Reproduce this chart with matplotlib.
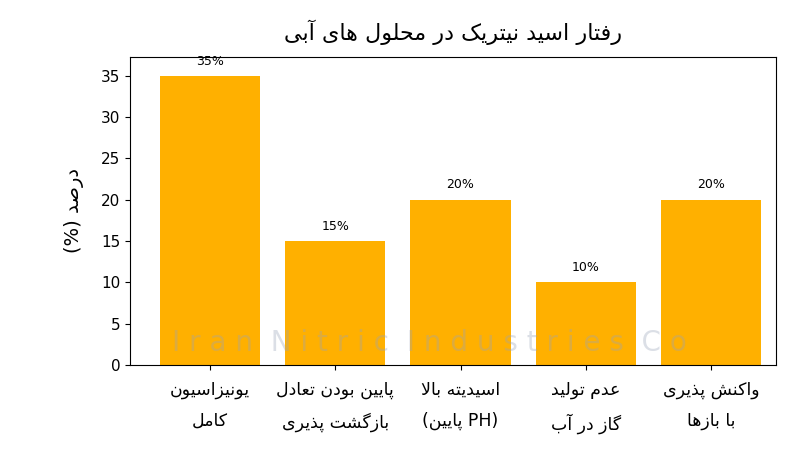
import unicodedata
import matplotlib
matplotlib.use("Agg")
import matplotlib.pyplot as plt

# --- minimal Persian shaping (no external reshaper available) ---
FORMS = {}
for cp in range(0xFB50, 0xFF00):
    d = unicodedata.decomposition(chr(cp))
    if d.startswith('<'):
        parts = d.split()
        base = ''.join(chr(int(x, 16)) for x in parts[1:])
        FORMS.setdefault((base, parts[0]), chr(cp))

RIGHT_ONLY = set('اآأإدذرزژوؤة') | {'لا'}


def is_letter(u):
    return (u, '<isolated>') in FORMS or (u, '<final>') in FORMS


def fa(s):
    units = []
    i = 0
    while i < len(s):
        if s[i] == 'ل' and i + 1 < len(s) and s[i + 1] == 'ا':
            units.append('لا')
            i += 2
        else:
            units.append(s[i])
            i += 1
    out = []
    for k, u in enumerate(units):
        if not is_letter(u):
            out.append({'(': ')', ')': '('}.get(u, u))
            continue
        prev = units[k - 1] if k > 0 else None
        nxt = units[k + 1] if k + 1 < len(units) else None
        jp = prev is not None and is_letter(prev) and prev not in RIGHT_ONLY
        jn = nxt is not None and is_letter(nxt) and u not in RIGHT_ONLY
        tag = {(False, False): '<isolated>', (True, False): '<final>',
               (False, True): '<initial>', (True, True): '<medial>'}[(jp, jn)]
        out.append(FORMS.get((u, tag), FORMS.get((u, '<isolated>'), u)))
    return ''.join(reversed(out))


def fa_lines(s):
    return '\n'.join(fa(line) for line in s.split('\n'))


# --- data ---
title = "رفتار اسید نیتریک در محلول های آبی"
categories = [
    fa_lines("یونیزاسیون\nکامل"),
    fa_lines("پایین بودن تعادل\nبازگشت پذیری"),
    fa("اسیدیته بالا") + "\n(" + fa("پایین") + " PH)",
    fa_lines("عدم تولید\nگاز در آب"),
    fa_lines("واکنش پذیری\nبا بازها"),
]
values = [35, 15, 20, 10, 20]
ylabel = "(%) " + fa("درصد")

plt.rcParams['font.family'] = ['DejaVu Sans']
fig, ax = plt.subplots(figsize=(8, 4.62), dpi=100)
fig.subplots_adjust(left=0.1625, right=0.97, top=0.877, bottom=0.21)

x = range(len(values))
bars = ax.bar(x, values, width=0.8, color='#FFB000')
for b, v in zip(bars, values):
    ax.text(b.get_x() + b.get_width() / 2, v + 1.0, f"{v}%", ha='center',
            va='bottom', fontsize=9)

ax.set_xticks(list(x))
ax.set_xticklabels(categories, fontsize=12.5, linespacing=1.9)
ax.set_yticks(range(0, 36, 5))
ax.set_ylim(0, 37.3)
ax.set_xlim(-0.64, 4.52)
ax.tick_params(axis='y', labelsize=11)
ax.tick_params(axis='x', pad=8)
ax.set_ylabel(ylabel, fontsize=14, labelpad=12)
ax.set_title(fa(title), fontsize=16, pad=12)

# faint watermark
ax.text(1.75, 2.7, "I r a n  N i t r i c  I n d u s t r i e s  C o", ha='center',
        va='center', fontsize=20, color='#9aa4b8', alpha=0.35, zorder=5)

fig.savefig("out.png", dpi=100)
